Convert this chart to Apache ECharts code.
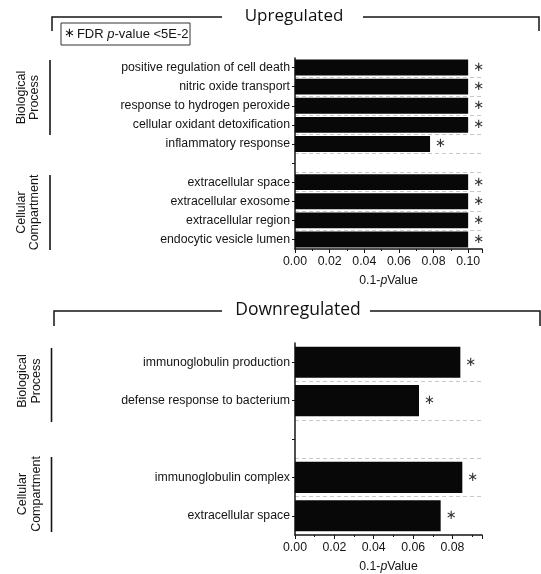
<!DOCTYPE html>
<html><head><meta charset="utf-8">
<script src="https://cdn.jsdelivr.net/npm/echarts@6/dist/echarts.min.js"></script>
<style>html,body{margin:0;padding:0;background:#fff}#c{width:541px;height:574px}</style>
</head><body><div id="c"></div>
<script>
// ---- data ----
const upCategories = ['positive regulation of cell death', 'nitric oxide transport', 'response to hydrogen peroxide', 'cellular oxidant detoxification', 'inflammatory response', '', 'extracellular space', 'extracellular exosome', 'extracellular region', 'endocytic vesicle lumen'];
const upValues = [0.1, 0.1, 0.1, 0.1, 0.078, null, 0.1, 0.1, 0.1, 0.1];
const upSignificant = [1, 1, 1, 1, 1, 0, 1, 1, 1, 1];
const downCategories = ['immunoglobulin production', 'defense response to bacterium', '', 'immunoglobulin complex', 'extracellular space'];
const downValues = [0.084, 0.063, null, 0.085, 0.074];
const downSignificant = [1, 1, 0, 1, 1];
const upAxisMax = 0.108;
const downAxisMax = 0.095;
const tickStep = 0.02;
const panelTitles = ['Upregulated', 'Downregulated'];
const groupLabels = ['Biological\nProcess', 'Cellular\nCompartment'];
const legendText = '{s|\u2217}FDR {i|p}-value <5E-2';
const axisName = '0.1-{i|p}Value';

const FONT = '"Liberation Sans", Arial, sans-serif';
const TITLE_FONT = '"Open Sans", "Noto Sans", sans-serif';
const INK = '#141414';

function yAxisCfg(grid, cats) {
  return {
    type: 'category', gridIndex: grid, data: cats, inverse: true,
    axisLine: { show: true, lineStyle: { color: INK, width: 1.5 } },
    axisTick: { show: true, alignWithLabel: true, interval: 0, length: 3, lineStyle: { color: INK, width: 1 } },
    axisLabel: { interval: 0, fontSize: 12.3, color: INK, margin: 5, fontFamily: FONT },
    splitLine: { show: true, interval: 0, showMinLine: false, showMaxLine: false, lineStyle: { color: '#c8c8c8', type: [4, 3], width: 1 } }
  };
}
function xAxisCfg(grid, max) {
  return {
    type: 'value', gridIndex: grid, min: 0, max: max, interval: tickStep,
    axisLine: { show: true, lineStyle: { color: INK, width: 1.5 } },
    axisTick: { show: true, length: 4, lineStyle: { color: INK, width: 1 } },
    minorTick: { show: true, splitNumber: 2, length: 2, lineStyle: { color: INK, width: 1 } },
    axisLabel: { formatter: v => v.toFixed(2), showMaxLabel: false, fontSize: 12.3, color: INK, margin: 7, fontFamily: FONT },
    splitLine: { show: false },
    name: axisName, nameLocation: 'middle', nameGap: 26,
    nameTextStyle: { fontSize: 12.3, color: INK, fontFamily: FONT, rich: { i: { fontStyle: 'italic', fontSize: 12.3, color: INK, fontFamily: FONT } } }
  };
}
function barSeries(idx, vals, sig, gap) {
  return {
    type: 'bar', xAxisIndex: idx, yAxisIndex: idx, barCategoryGap: gap,
    data: vals.map((v, i) => ({ value: v, label: { show: !!sig[i] } })),
    itemStyle: { color: '#080808' },
    label: { position: 'right', distance: 5, formatter: '\u2217', fontSize: 13, color: '#333', fontFamily: '"DejaVu Sans", sans-serif' },
    silent: true
  };
}
function bracket(y, x0, x1, gapL, gapR, drop) {
  const ls = { stroke: INK, lineWidth: 1.5 };
  return [
    { type: 'polyline', shape: { points: [[x0, y + drop], [x0, y], [gapL, y]] }, style: Object.assign({ fill: null }, ls) },
    { type: 'polyline', shape: { points: [[gapR, y], [x1, y], [x1, y + drop]] }, style: Object.assign({ fill: null }, ls) }
  ];
}
function groupLabel(text, cx, cy) {
  return { type: 'text', x: cx, y: cy, rotation: Math.PI / 2,
    style: { text: text, fontSize: 12.5, fontFamily: FONT, fill: INK, align: 'center', verticalAlign: 'middle', lineHeight: 13.5 } };
}
function vline(x, y0, y1) {
  return { type: 'line', shape: { x1: x, y1: y0, x2: x, y2: y1 }, style: { stroke: INK, lineWidth: 1.6 } };
}

const chart = echarts.init(document.getElementById('c'), null, { renderer: 'canvas' });
chart.setOption({
  animation: false,
  backgroundColor: '#fff',
  grid: [
    { left: 295, right: 59, top: 58, height: 191, outerBoundsMode: 'none', containLabel: false },
    { left: 295, right: 59, top: 343, height: 192, outerBoundsMode: 'none', containLabel: false }
  ],
  xAxis: [xAxisCfg(0, upAxisMax), xAxisCfg(1, downAxisMax)],
  yAxis: [yAxisCfg(0, upCategories), yAxisCfg(1, downCategories)],
  series: [barSeries(0, upValues, upSignificant, '17%'), barSeries(1, downValues, downSignificant, '19%')],
  graphic: [].concat(
    bracket(17, 52, 539, 222, 363, 14),
    bracket(311, 54, 540, 222, 370, 15),
    [
      { type: 'text', x: 294, y: 16, style: { text: panelTitles[0], fontSize: 17, fontFamily: TITLE_FONT, fill: '#111', align: 'center', verticalAlign: 'middle' } },
      { type: 'text', x: 298, y: 310, style: { text: panelTitles[1], fontSize: 17.5, fontFamily: TITLE_FONT, fill: '#111', align: 'center', verticalAlign: 'middle' } },
      { type: 'rect', shape: { x: 61, y: 23, width: 129, height: 22 }, style: { fill: '#fff', stroke: '#333', lineWidth: 1 } },
      { type: 'text', x: 64, y: 34, style: { text: legendText, fontSize: 13, fontFamily: FONT, fill: INK, verticalAlign: 'middle',
          rich: { s: { fontSize: 13, fontFamily: '"DejaVu Sans", sans-serif', fill: INK, padding: [0, 2, 0, 0] }, i: { fontStyle: 'italic', fontSize: 13, fontFamily: FONT, fill: INK } } } },
      vline(50, 60, 135), groupLabel(groupLabels[0], 28, 97.5),
      vline(50, 175, 250), groupLabel(groupLabels[1], 28, 212.5),
      vline(51.5, 348, 422), groupLabel(groupLabels[0], 29.5, 381),
      vline(51.5, 457, 532), groupLabel(groupLabels[1], 29.5, 494)
    ]
  )
});
</script></body></html>
